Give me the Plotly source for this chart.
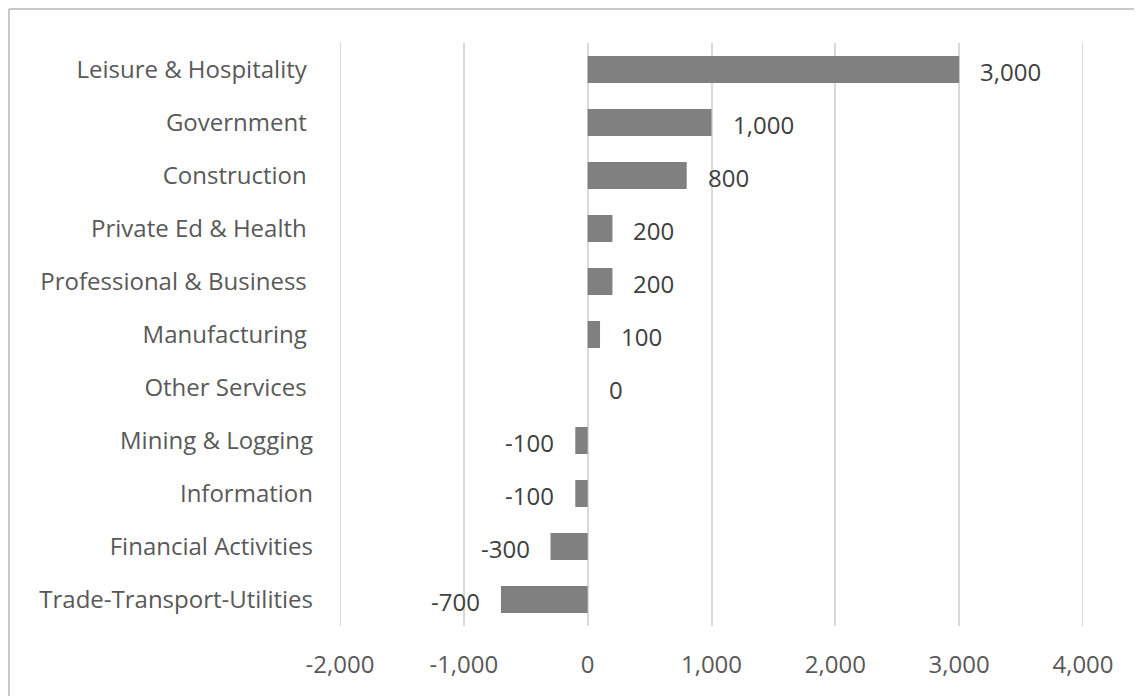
import plotly.graph_objects as go

categories = ["Leisure & Hospitality", "Government", "Construction", "Private Ed & Health",
              "Professional & Business", "Manufacturing", "Other Services", "Mining & Logging",
              "Information", "Financial Activities", "Trade-Transport-Utilities"]
values = [3000, 1000, 800, 200, 200, 100, 0, -100, -100, -300, -700]
tick_labels = ["Leisure & Hospitality\u00a0", "Government\u00a0", "Construction\u00a0",
               "Private Ed & Health\u00a0", "Professional & Business\u00a0", "Manufacturing\u00a0",
               "Other Services\u00a0", "Mining & Logging", "Information", "Financial Activities",
               "Trade-Transport-Utilities"]
x_ticks = [-2000, -1000, 0, 1000, 2000, 3000, 4000]

FONT = "Open Sans"
FS = 24
GRID = "#d9d9d9"

fig = go.Figure(go.Bar(
    x=values, y=categories, orientation="h",
    marker=dict(color="#808080", line=dict(width=0)),
    hoverinfo="skip",
))

for c, v in zip(categories, values):
    fig.add_annotation(
        x=v, y=c, text=f"{v:,}", showarrow=False,
        xanchor="right" if v < 0 else "left",
        xshift=-19 if v < 0 else 19, yshift=-2,
        font=dict(family=FONT, size=FS, color="#404040"),
    )

# edge gridlines (plotly omits gridlines lying on the plot edges)
for t in (x_ticks[0], x_ticks[-1]):
    fig.add_shape(type="line", xref="x", yref="paper", x0=t, x1=t, y0=0, y1=1,
                  line=dict(color=GRID, width=2), layer="below")

W, H = 1142, 696
L, R, T, B = 332, 67, 35, 78
pw, ph = W - L - R, H - T - B
bx = (1 - L) / pw
by = (H - B - 1) / ph

fig.add_shape(type="line", xref="paper", yref="paper", x0=bx, x1=(W - L) / pw + 0.01, y0=by, y1=by,
              line=dict(color="#c8c8c8", width=2))
fig.add_shape(type="line", xref="paper", yref="paper", x0=bx, x1=bx, y0=by, y1=-B / ph - 0.01,
              line=dict(color="#c8c8c8", width=2))

fig.update_layout(
    width=W, height=H,
    margin=dict(l=L, r=R, t=T, b=B, pad=0),
    paper_bgcolor="white", plot_bgcolor="white",
    bargap=0.49,
    showlegend=False,
    font=dict(family=FONT, size=FS, color="#595959"),
    xaxis=dict(
        range=[-2000, 4000], tickvals=x_ticks, ticktext=[f"{t:,}" for t in x_ticks],
        showgrid=True, gridcolor=GRID, gridwidth=2,
        zeroline=True, zerolinecolor=GRID, zerolinewidth=2,
        showline=False, ticks="", ticklabelstandoff=22,
        tickfont=dict(family=FONT, size=FS, color="#595959"),
        fixedrange=True,
    ),
    yaxis=dict(
        categoryorder="array", categoryarray=categories, autorange="reversed",
        tickvals=categories, ticktext=tick_labels,
        showgrid=False, zeroline=False, showline=False, ticks="",
        ticklabelstandoff=26,
        tickfont=dict(family=FONT, size=FS, color="#595959"),
        fixedrange=True,
    ),
)

fig.write_html("out.html")
